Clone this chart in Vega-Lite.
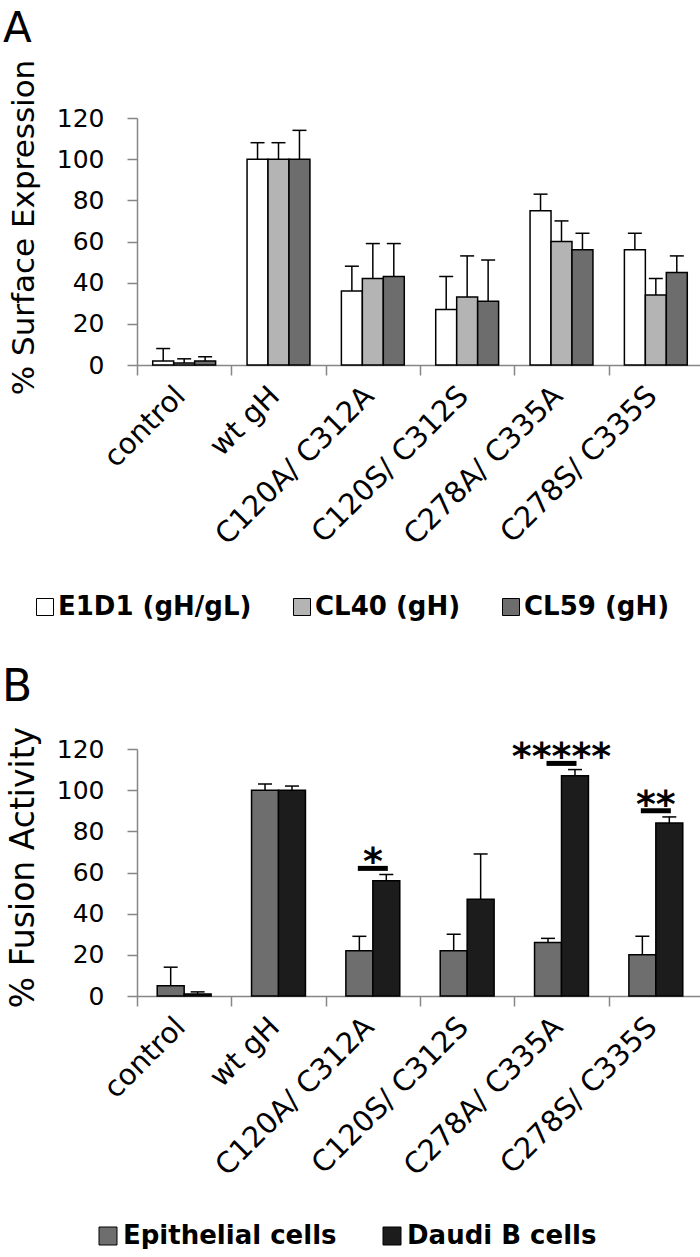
{
  "$schema": "https://vega.github.io/schema/vega-lite/v6.json",
  "background": "white",
  "padding": {"left": 2, "right": 2, "top": 8, "bottom": 0},
  "spacing": 46,
  "config": {
    "font": "DejaVu Sans",
    "view": {"stroke": null},
    "axis": {
      "domainColor": "#868686", "domainWidth": 1.5,
      "tickColor": "#868686", "tickWidth": 1.5, "tickSize": 10,
      "labelColor": "black", "titleColor": "black", "grid": false, "labelLimit": 0,
      "labelFont": "DejaVu Sans", "titleFont": "DejaVu Sans", "titleFontWeight": "normal"
    },
    "legend": {
      "orient": "none", "direction": "horizontal", "title": null, "labelLimit": 0,
      "symbolType": "square", "symbolStrokeColor": "black", "symbolStrokeWidth": 1,
      "labelFont": "DejaVu Sans", "labelFontWeight": "bold", "labelFontSize": 26, "labelColor": "black",
      "padding": 0
    },
    "title": {"anchor": "start", "frame": "bounds", "fontWeight": "normal", "color": "black", "font": "DejaVu Sans"}
  },
  "datasets": {
    "a": [
      {"g": "control", "s": "E1D1 (gH/gL)", "v": 2, "e": 8},
      {"g": "control", "s": "CL40 (gH)", "v": 1, "e": 3},
      {"g": "control", "s": "CL59 (gH)", "v": 2, "e": 4},
      {"g": "wt gH", "s": "E1D1 (gH/gL)", "v": 100, "e": 108},
      {"g": "wt gH", "s": "CL40 (gH)", "v": 100, "e": 108},
      {"g": "wt gH", "s": "CL59 (gH)", "v": 100, "e": 114},
      {"g": "C120A/ C312A", "s": "E1D1 (gH/gL)", "v": 36, "e": 48},
      {"g": "C120A/ C312A", "s": "CL40 (gH)", "v": 42, "e": 59},
      {"g": "C120A/ C312A", "s": "CL59 (gH)", "v": 43, "e": 59},
      {"g": "C120S/ C312S", "s": "E1D1 (gH/gL)", "v": 27, "e": 43},
      {"g": "C120S/ C312S", "s": "CL40 (gH)", "v": 33, "e": 53},
      {"g": "C120S/ C312S", "s": "CL59 (gH)", "v": 31, "e": 51},
      {"g": "C278A/ C335A", "s": "E1D1 (gH/gL)", "v": 75, "e": 83},
      {"g": "C278A/ C335A", "s": "CL40 (gH)", "v": 60, "e": 70},
      {"g": "C278A/ C335A", "s": "CL59 (gH)", "v": 56, "e": 64},
      {"g": "C278S/ C335S", "s": "E1D1 (gH/gL)", "v": 56, "e": 64},
      {"g": "C278S/ C335S", "s": "CL40 (gH)", "v": 34, "e": 42},
      {"g": "C278S/ C335S", "s": "CL59 (gH)", "v": 45, "e": 53}
    ],
    "b": [
      {"g": "control", "s": "Epithelial cells", "v": 5, "e": 14},
      {"g": "control", "s": "Daudi B cells", "v": 1, "e": 2},
      {"g": "wt gH", "s": "Epithelial cells", "v": 100, "e": 103},
      {"g": "wt gH", "s": "Daudi B cells", "v": 100, "e": 102},
      {"g": "C120A/ C312A", "s": "Epithelial cells", "v": 22, "e": 29},
      {"g": "C120A/ C312A", "s": "Daudi B cells", "v": 56, "e": 59},
      {"g": "C120S/ C312S", "s": "Epithelial cells", "v": 22, "e": 30},
      {"g": "C120S/ C312S", "s": "Daudi B cells", "v": 47, "e": 69},
      {"g": "C278A/ C335A", "s": "Epithelial cells", "v": 26, "e": 28},
      {"g": "C278A/ C335A", "s": "Daudi B cells", "v": 107, "e": 110},
      {"g": "C278S/ C335S", "s": "Epithelial cells", "v": 20, "e": 29},
      {"g": "C278S/ C335S", "s": "Daudi B cells", "v": 84, "e": 87}
    ],
    "sig": [
      {"g": "C120A/ C312A", "y": 62, "label": "*"},
      {"g": "C278A/ C335A", "y": 113, "label": "*****"},
      {"g": "C278S/ C335S", "y": 90, "label": "**"}
    ]
  },
  "vconcat": [
    {
      "width": 566,
      "height": 247,
      "title": {"text": "A", "fontSize": 42, "offset": 8, "dx": -5},
      "data": {"name": "a"},
      "encoding": {
        "x": {
          "field": "g", "type": "nominal",
          "sort": ["control", "wt gH", "C120A/ C312A", "C120S/ C312S", "C278A/ C335A", "C278S/ C335S"],
          "scale": {"paddingInner": 0, "paddingOuter": 0},
          "axis": {"title": null, "labelAngle": -45, "labelFontSize": 29, "tickBand": "extent", "labelPadding": 6, "labelOffset": -14}
        },
        "xOffset": {
          "field": "s", "type": "nominal",
          "sort": ["E1D1 (gH/gL)", "CL40 (gH)", "CL59 (gH)"],
          "scale": {"paddingInner": 0, "paddingOuter": 0.75}
        }
      },
      "layer": [
        {
          "mark": {"type": "bar", "stroke": "black", "strokeWidth": 1.5},
          "encoding": {
            "y": {
              "field": "v", "type": "quantitative", "scale": {"domain": [0, 120]},
              "axis": {"title": "% Surface Expression", "values": [0, 20, 40, 60, 80, 100, 120], "labelFontSize": 25, "labelPadding": 23, "titleFontSize": 31, "titleX": -104, "titleY": 109, "titleBaseline": "alphabetic", "titleAlign": "center", "titleAngle": -90}
            },
            "color": {
              "field": "s", "type": "nominal",
              "scale": {"domain": ["E1D1 (gH/gL)", "CL40 (gH)", "CL59 (gH)"], "range": ["#ffffff", "#b4b4b4", "#6d6d6d"]},
              "legend": {"legendX": -105, "legendY": 476, "symbolSize": 289, "columnPadding": 37, "labelOffset": 0}
            }
          }
        },
        {
          "mark": {"type": "rule", "color": "black", "strokeWidth": 1.5},
          "encoding": {
            "y": {"field": "v", "type": "quantitative"},
            "y2": {"field": "e"}
          }
        },
        {
          "mark": {"type": "tick", "color": "black", "opacity": 1, "size": 14, "thickness": 1.5},
          "encoding": {
            "y": {"field": "e", "type": "quantitative"}
          }
        }
      ]
    },
    {
      "width": 566,
      "height": 247,
      "title": {"text": "B", "fontSize": 44, "offset": 16, "dx": -5},
      "encoding": {
        "x": {
          "field": "g", "type": "nominal",
          "sort": ["control", "wt gH", "C120A/ C312A", "C120S/ C312S", "C278A/ C335A", "C278S/ C335S"],
          "scale": {"paddingInner": 0, "paddingOuter": 0},
          "axis": {"title": null, "labelAngle": -45, "labelFontSize": 29, "tickBand": "extent", "labelPadding": 6, "labelOffset": -14}
        }
      },
      "layer": [
        {
          "data": {"name": "b"},
          "encoding": {
            "xOffset": {
              "field": "s", "type": "nominal",
              "sort": ["Epithelial cells", "Daudi B cells"],
              "scale": {"paddingInner": 0, "paddingOuter": 0.75}
            }
          },
          "layer": [
            {
              "mark": {"type": "bar", "stroke": "black", "strokeWidth": 1.5},
              "encoding": {
                "y": {
                  "field": "v", "type": "quantitative", "scale": {"domain": [0, 120]},
                  "axis": {"title": "% Fusion Activity", "values": [0, 20, 40, 60, 80, 100, 120], "labelFontSize": 25, "labelPadding": 23, "titleFontSize": 33, "titleX": -104, "titleY": 118, "titleBaseline": "alphabetic", "titleAlign": "center", "titleAngle": -90}
                },
                "color": {
                  "field": "s", "type": "nominal",
                  "scale": {"domain": ["Epithelial cells", "Daudi B cells"], "range": ["#6e6e6e", "#1c1c1c"]},
                  "legend": {"legendX": -42, "legendY": 474, "symbolSize": 324, "columnPadding": 42, "labelOffset": 2}
                }
              }
            },
            {
              "mark": {"type": "rule", "color": "black", "strokeWidth": 1.5},
              "encoding": {
                "y": {"field": "v", "type": "quantitative"},
                "y2": {"field": "e"}
              }
            },
            {
              "mark": {"type": "tick", "color": "black", "opacity": 1, "size": 14, "thickness": 1.5},
              "encoding": {
                "y": {"field": "e", "type": "quantitative"}
              }
            }
          ]
        },
        {
          "data": {"name": "sig"},
          "mark": {"type": "tick", "color": "black", "opacity": 1, "size": 30, "thickness": 5},
          "encoding": {
            "y": {"field": "y", "type": "quantitative"}
          }
        },
        {
          "data": {"name": "sig"},
          "mark": {"type": "text", "color": "black", "fontSize": 38, "fontWeight": "bold", "baseline": "alphabetic", "dy": 6},
          "encoding": {
            "y": {"field": "y", "type": "quantitative"},
            "text": {"field": "label"}
          }
        }
      ]
    }
  ],
  "resolve": {"scale": {"color": "independent", "x": "independent", "xOffset": "independent", "y": "independent"}}
}
